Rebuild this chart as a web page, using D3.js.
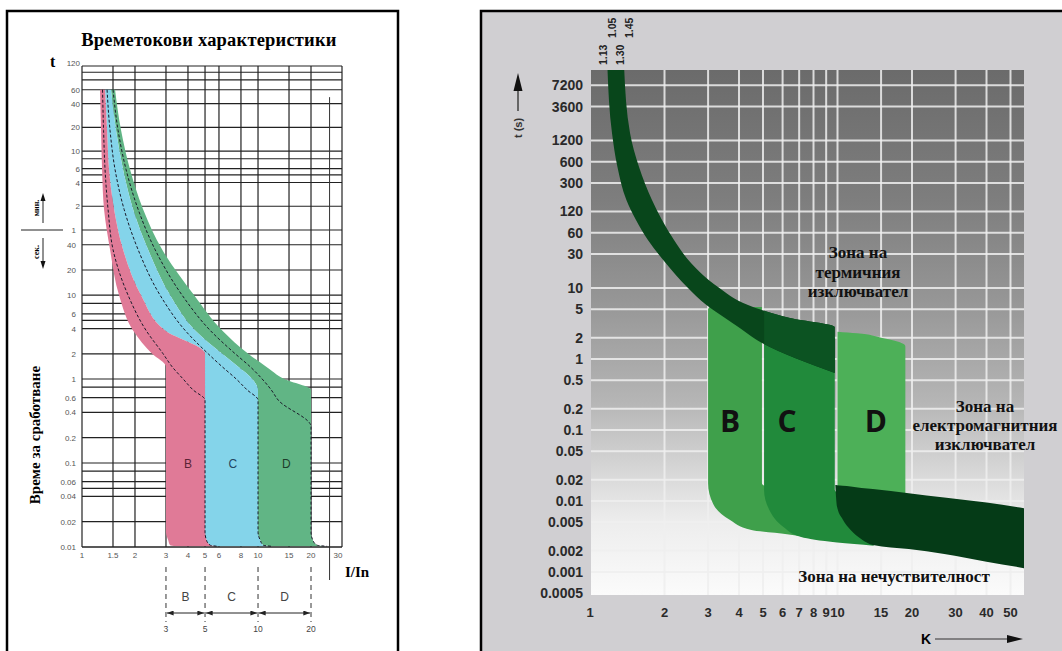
<!DOCTYPE html>
<html>
<head>
<meta charset="utf-8">
<script src="https://cdn.jsdelivr.net/npm/d3@7"></script>
<style>
body { margin: 0; background: #fff; }
svg { display: block; }
</style>
</head>
<body>
<svg id="chart" width="1062" height="651"></svg>
<script>
// ---------- left chart data ----------
var leftTitle = "Времетокови характеристики";
var leftXTicks = [1, 1.5, 2, 3, 4, 5, 6, 8, 10, 15, 20, 30];
var leftYTicks = [7200, 3600, 2400, 1200, 600, 360, 240, 120, 60, 40, 20, 10, 6, 4, 2, 1, 0.6, 0.4, 0.2, 0.1, 0.06, 0.04, 0.02, 0.01];
var leftYLabels = ["120", "60", "40", "20", "10", "6", "4", "2", "1", "40", "20", "10", "6", "4", "2", "1", "0.6", "0.4", "0.2", "0.1", "0.06", "0.04", "0.02", "0.01"];
var leftYGrid = [7200, 6000, 4800, 3600, 2400, 1200, 600, 480, 360, 300, 240, 120, 60, 40, 20, 10, 8, 6, 5, 4, 2, 1, 0.8, 0.6, 0.4, 0.2, 0.1, 0.08, 0.06, 0.05, 0.04, 0.02, 0.01];

// band edges and dashed curves, I/In sampled at the same times (s)
var bandT   = [3600, 1100, 350, 110, 35, 10, 3.8, 2.0, 1.4, 1.0, 0.74, 0.56, 0.27, 0.015, 0.012, 0.0105, 0.0102];
var edgeLow = [1.266, 1.283, 1.30, 1.334, 1.443, 1.624, 1.95, 2.502, 3, 3, 3, 3, 3, 3, 3.09, 3.167, 3.426];
var edgeB   = [1.352, 1.388, 1.424, 1.521, 1.711, 2.166, 2.966, 5, 5, 5, 5, 5, 5, 5, 5.1, 5.35, 5.86];
var edgeC   = [1.462, 1.561, 1.711, 1.95, 2.373, 3.167, 4.394, 6.26, 7.72, 9.27, 10, 10, 10, 10, 10.3, 10.7, 11.9];
var edgeD   = [1.541, 1.667, 1.875, 2.223, 2.852, 4.337, 6.26, 8.80, 11.13, 14.09, 20, 20, 20, 20, 20.5, 21.7, 24.7];
var dashB   = [1.308, 1.326, 1.352, 1.406, 1.501, 1.827, 2.312, 2.889, 3.251, 3.755, 4.28, 5, 5, 5, 5.1, 5.35, 5.86];
var dashC   = [1.388, 1.443, 1.541, 1.734, 2.083, 2.778, 3.854, 5.21, 6.26, 7.52, 8.68, 10, 10, 10, 10.3, 10.7, 11.9];
var dashD   = [1.501, 1.603, 1.780, 2.083, 2.602, 3.706, 5.35, 7.42, 9.03, 10.56, 11.9, 13.03, 20, 20, 20.5, 21.7, 24.7];

var leftBandNames = ["B", "C", "D"];
var leftBandLabelAt = [4, 7.2, 14.5];
var bracketEdges = [3, 5, 10, 20];

// ---------- right chart data ----------
var rightYTicks = [7200, 3600, 1200, 600, 300, 120, 60, 30, 10, 5, 2, 1, 0.5, 0.2, 0.1, 0.05, 0.02, 0.01, 0.005, 0.002, 0.001, 0.0005];
var rightYLabels = ["7200", "3600", "1200", "600", "300", "120", "60", "30", "10", "5", "2", "1", "0.5", "0.2", "0.1", "0.05", "0.02", "0.01", "0.005", "0.002", "0.001", "0.0005"];
var rightXTicks = [1, 2, 3, 4, 5, 6, 7, 8, 9, 10, 15, 20, 30, 40, 50];
var rightXGrid = [2, 3, 4, 5, 6, 7, 8, 9, 10, 15, 20, 30, 40, 50];
var topLabels = ["1.13", "1.05", "1.30", "1.45"];

var thermalT  = [14000, 1524, 506, 173.5, 90.7, 47.4, 22.5, 10.3, 5.76, 3.78, 2.82, 1.68, 0.635];
var thermalLo = [1.175, 1.227, 1.291, 1.403, 1.534, 1.714, 2.022, 2.466, 2.953, 3.513, 3.974, 4.954, 9.75];
var thermalHi = [1.372, 1.451, 1.578, 1.780, 1.954, 2.185, 2.559, 3.290, 4.349, 6.430, 9.75, 9.75, 9.75];

var bT  = [5.4, 5.0, 0.5, 0.0178, 0.009, 0.0054, 0.0039, 0.0034, 0.0029];
var bLo = [3.05, 3.0, 3.0, 3.0, 3.15, 3.68, 4.49, 6.25, 8.5];
var bHi = [4.95, 4.95, 4.95, 4.95, 8.5, 8.5, 8.5, 8.5, 8.5];

var cT  = [2.0, 0.0144, 0.0075, 0.0043, 0.0031, 0.0026, 0.00235];
var cLo = [5.05, 5.05, 5.3, 6.05, 7.13, 9.96, 14];
var cHi = [9.75, 9.75, 14, 14, 14, 14, 14];

var dT  = [2.42, 2.3, 2.0, 1.75, 1.62, 1.5, 0.01];
var dLo = [10, 10, 10, 10, 10, 10, 10];
var dHi = [10.0, 12.0, 15.0, 17.6, 18.5, 18.8, 18.8];

var magI   = [9.8, 9.96, 10.5, 11.3, 12.5, 13.9, 19.4, 27, 40, 57];
var magTop = [0.0168, 0.0167, 0.0164, 0.016, 0.0153, 0.0148, 0.0129, 0.0112, 0.0095, 0.0079];
var magBot = [0.0168, 0.0083, 0.0055, 0.0039, 0.0029, 0.0024, 0.0021, 0.0018, 0.0014, 0.00113];

var rightNames = ["B", "C", "D"];
var rightNameAt = [3.68, 6.25, 14.3];
var thermalText = ["Зона на", "термичния", "изключвател"];
var magText = ["Зона на", "електромагнитния", "изключвател"];
var deadText = "Зона на нечуствителност";

var serif = "'Liberation Serif', 'Times New Roman', serif";
var sans = "'Liberation Sans', Arial, sans-serif";
var narrow = "'Liberation Sans Narrow', 'Liberation Sans', sans-serif";

var svg = d3.select("#chart");
var defs = svg.append("defs");

// panels
svg.append("rect").attr("x", 7).attr("y", 11).attr("width", 391).attr("height", 700)
	.attr("fill", "#fff").attr("stroke", "#000").attr("stroke-width", 2.5);
svg.append("rect").attr("x", 481).attr("y", 11).attr("width", 700).attr("height", 700)
	.attr("fill", "#d0cfd2").attr("stroke", "#000").attr("stroke-width", 2.5);

// =============== left chart ===============
var xL = d3.scaleLog().domain([1, 30]).range([82, 342]);
var yL = d3.scaleLog().domain([7200, 60, 1, 0.01]).range([66, 230, 379, 547]);
var gL = svg.append("g");

gL.append("text").attr("x", 209).attr("y", 46).attr("text-anchor", "middle")
	.style("font", "bold 18.5px " + serif).style("letter-spacing", "0.2px").text(leftTitle);

// grid
gL.append("g").selectAll("line").data(leftYGrid).enter().append("line")
	.attr("x1", xL(1)).attr("x2", xL(30))
	.attr("y1", d => yL(d)).attr("y2", d => yL(d))
	.attr("stroke", "#222").attr("stroke-width", 1.2);
gL.append("g").selectAll("line").data(leftXTicks).enter().append("line")
	.attr("x1", d => xL(d)).attr("x2", d => xL(d))
	.attr("y1", yL(7200)).attr("y2", yL(0.01))
	.attr("stroke", "#222").attr("stroke-width", 1.2);
// extra axis line at the right
gL.append("line").attr("x1", xL(25.5)).attr("x2", xL(25.5))
	.attr("y1", yL(2900)).attr("y2", yL(0.01) + 33)
	.attr("stroke", "#333").attr("stroke-width", 1);

// bands
function rows(lo, hi) { return bandT.map((t, i) => ({t: t, a: lo[i], b: hi[i]})); }
var areaL = d3.area().curve(d3.curveMonotoneY)
	.y(d => yL(d.t)).x0(d => xL(d.a)).x1(d => xL(d.b));
gL.append("path").attr("d", areaL(rows(edgeC, edgeD))).attr("fill", "#61b585");
gL.append("path").attr("d", areaL(rows(edgeB, edgeC))).attr("fill", "#84d4ea");
gL.append("path").attr("d", areaL(rows(edgeLow, edgeB))).attr("fill", "#e07a97");

var lineL = d3.line().curve(d3.curveMonotoneY).x(d => xL(d.v)).y(d => yL(d.t));
[dashB, dashC, dashD].forEach(function(c) {
	gL.append("path").attr("d", lineL(bandT.map((t, i) => ({t: t, v: c[i]})))).attr("fill", "none")
		.attr("stroke", "#1a1a2a").attr("stroke-width", 1).attr("stroke-dasharray", "3,2");
});
// bottom line over fills
gL.append("line").attr("x1", xL(1)).attr("x2", xL(30)).attr("y1", yL(0.01)).attr("y2", yL(0.01))
	.attr("stroke", "#222").attr("stroke-width", 1.2);

gL.selectAll(".bandName").data(leftBandNames).enter().append("text")
	.attr("x", (d, i) => xL(leftBandLabelAt[i])).attr("y", yL(0.1) + 5)
	.attr("text-anchor", "middle")
	.attr("fill", (d, i) => ["#5b2436", "#234560", "#1d3d2b"][i])
	.style("font", "12px " + sans).text(d => d);

// tick labels
gL.selectAll(".yl").data(leftYTicks).enter().append("text")
	.attr("x", d => d >= 120 ? 80 : 76).attr("y", (d, i) => yL(d) + (i == 0 ? 0 : 3))
	.attr("text-anchor", "end").attr("fill", "#555")
	.style("font", "8px " + sans).text((d, i) => leftYLabels[i]);
gL.selectAll(".xl").data(leftXTicks).enter().append("text")
	.attr("x", d => xL(d) - (d == 30 ? 4 : 0)).attr("y", 558)
	.attr("text-anchor", "middle").attr("fill", "#555")
	.style("font", "8px " + sans).text(d => d);

gL.append("text").attr("x", 50).attr("y", 67).style("font", "bold 16px " + serif).text("t");
gL.append("text").attr("x", 345).attr("y", 577).style("font", "bold 15px " + serif).text("I/In");
gL.append("text").attr("transform", "translate(40,435) rotate(-90)").attr("text-anchor", "middle")
	.style("font", "bold 15px " + serif).text("Време за сработване");

// minutes / seconds marker
gL.append("line").attr("x1", 21).attr("x2", 63).attr("y1", yL(60)).attr("y2", yL(60))
	.attr("stroke", "#222").attr("stroke-width", 1);
gL.append("line").attr("x1", 43).attr("x2", 43).attr("y1", yL(60) - 7).attr("y2", yL(60) - 30)
	.attr("stroke", "#222").attr("stroke-width", 1);
gL.append("path").attr("d", "M43," + (yL(60) - 37) + "l-2.5,8h5z").attr("fill", "#111");
gL.append("line").attr("x1", 43).attr("x2", 43).attr("y1", yL(60) + 8).attr("y2", yL(60) + 32)
	.attr("stroke", "#222").attr("stroke-width", 1);
gL.append("path").attr("d", "M43," + (yL(60) + 39) + "l-2.5,-8h5z").attr("fill", "#111");
gL.append("text").attr("transform", "translate(39," + (yL(60) - 22) + ") rotate(-90)")
	.attr("text-anchor", "middle").style("font", "bold 8px " + serif).text("мин.");
gL.append("text").attr("transform", "translate(39," + (yL(60) + 22) + ") rotate(-90)")
	.attr("text-anchor", "middle").style("font", "bold 8px " + serif).text("сек.");

// bracket under the chart
defs.append("marker").attr("id", "ah").attr("viewBox", "0 0 8 6").attr("refX", 8).attr("refY", 3)
	.attr("markerWidth", 7).attr("markerHeight", 5).attr("orient", "auto-start-reverse")
	.append("path").attr("d", "M0,0L8,3L0,6z").attr("fill", "#222");
gL.selectAll(".bdash").data(bracketEdges).enter().append("line")
	.attr("x1", d => xL(d)).attr("x2", d => xL(d)).attr("y1", 567).attr("y2", 622)
	.attr("stroke", "#333").attr("stroke-width", 1).attr("stroke-dasharray", "5,4");
gL.selectAll(".bnum").data(bracketEdges).enter().append("text")
	.attr("x", d => xL(d)).attr("y", 632).attr("text-anchor", "middle").attr("fill", "#444")
	.style("font", "8.5px " + sans).text(d => d);
gL.selectAll(".barrow").data(leftBandNames).enter().append("line")
	.attr("x1", (d, i) => xL(bracketEdges[i]) + 1).attr("x2", (d, i) => xL(bracketEdges[i + 1]) - 1)
	.attr("y1", 613).attr("y2", 613).attr("stroke", "#222").attr("stroke-width", 1)
	.attr("marker-start", "url(#ah)").attr("marker-end", "url(#ah)");
gL.selectAll(".bname").data(leftBandNames).enter().append("text")
	.attr("x", (d, i) => xL(Math.sqrt(bracketEdges[i] * bracketEdges[i + 1])))
	.attr("y", 601).attr("text-anchor", "middle").attr("fill", "#444")
	.style("font", "12px " + sans).text(d => d);

// =============== right chart ===============
var xR = d3.scaleLog().domain([1, 10]).range([590, 837.5]);
var yR = d3.scaleLog().domain([1, 0.001]).range([359, 572]);
var pr = {x0: 591, x1: 1024, y0: 70, y1: 595};
var gR = svg.append("g");

var grad = defs.append("linearGradient").attr("id", "bgR").attr("x1", 0).attr("y1", 0).attr("x2", 0).attr("y2", 1);
[[0, "#6b6b6b"], [0.25, "#7e7e7e"], [0.44, "#969696"], [0.63, "#b5b5b5"], [0.76, "#d6d6d6"], [0.86, "#ededed"], [1, "#fbfbfb"]]
	.forEach(s => grad.append("stop").attr("offset", s[0]).attr("stop-color", s[1]));
defs.append("clipPath").attr("id", "clipR").append("rect")
	.attr("x", pr.x0).attr("y", pr.y0).attr("width", pr.x1 - pr.x0).attr("height", pr.y1 - pr.y0);
defs.append("clipPath").attr("id", "clipC").append("rect")
	.attr("x", xR(5.05)).attr("y", pr.y0).attr("width", xR(9.75) - xR(5.05)).attr("height", pr.y1 - pr.y0);

gR.append("rect").attr("x", pr.x0).attr("y", pr.y0).attr("width", pr.x1 - pr.x0).attr("height", pr.y1 - pr.y0)
	.attr("fill", "url(#bgR)");

var gP = gR.append("g").attr("clip-path", "url(#clipR)");
gP.append("g").selectAll("line").data(rightYTicks.slice(0, -1)).enter().append("line")
	.attr("x1", pr.x0).attr("x2", pr.x1).attr("y1", d => yR(d)).attr("y2", d => yR(d))
	.attr("stroke", "#eeeeee").attr("stroke-opacity", 0.85).attr("stroke-width", 2);
gP.append("g").selectAll("line").data(rightXGrid).enter().append("line")
	.attr("x1", d => xR(d)).attr("x2", d => xR(d)).attr("y1", pr.y0).attr("y2", pr.y1)
	.attr("stroke", "#eeeeee").attr("stroke-opacity", 0.85).attr("stroke-width", 2);

function rowsR(ts, lo, hi) { return ts.map((t, i) => ({t: t, a: lo[i], b: hi[i]})); }
var areaR = d3.area().curve(d3.curveMonotoneY)
	.y(d => yR(d.t)).x0(d => xR(d.a)).x1(d => xR(d.b));
var areaMag = d3.area().curve(d3.curveMonotoneX)
	.x(d => xR(d.I)).y0(d => yR(d.top)).y1(d => yR(d.bot));

gP.append("path").attr("d", areaR(rowsR(bT, bLo, bHi))).attr("fill", "#3fa04b");
gP.append("path").attr("d", areaR(rowsR(cT, cLo, cHi))).attr("fill", "#218a3b");
gP.append("path").attr("d", areaR(rowsR(dT, dLo, dHi))).attr("fill", "#4db058");
var thermalPath = areaR(rowsR(thermalT, thermalLo, thermalHi));
gP.append("path").attr("d", thermalPath).attr("fill", "#08461b");
gP.append("g").attr("clip-path", "url(#clipC)").append("path").attr("d", thermalPath).attr("fill", "#0c5322");
gP.append("path").attr("d", areaMag(magI.map((v, i) => ({I: v, top: magTop[i], bot: magBot[i]}))))
	.attr("fill", "#053b17");

gR.selectAll(".rname").data(rightNames).enter().append("text")
	.attr("x", (d, i) => xR(rightNameAt[i])).attr("y", yR(0.134) + 11)
	.attr("text-anchor", "middle").attr("fill", "#111")
	.style("font", "bold 30px 'Open Sans', " + sans).text(d => d);

// axis labels
gR.selectAll(".ryl").data(rightYTicks).enter().append("text")
	.attr("x", 583).attr("y", d => yR(d) + 5).attr("text-anchor", "end").attr("fill", "#2a2a2a")
	.style("font", "bold 14px " + narrow).text((d, i) => rightYLabels[i]);
gR.selectAll(".rxl").data(rightXTicks).enter().append("text")
	.attr("x", d => xR(d)).attr("y", 617).attr("text-anchor", "middle").attr("fill", "#2a2a2a")
	.style("font", "bold 13px " + narrow).text(d => d);
gR.selectAll(".tl").data(topLabels).enter().append("text")
	.attr("transform", (d, i) => "translate(" + (xR(1.13) + 4 + i * 8.5) + "," + (i % 2 == 0 ? 65 : 38) + ") rotate(-90)")
	.attr("fill", "#222").style("font", "bold 10.5px " + narrow).text(d => d);

// t(s) arrow
gR.append("line").attr("x1", 518).attr("x2", 518).attr("y1", 111).attr("y2", 88)
	.attr("stroke", "#666").attr("stroke-width", 2);
gR.append("path").attr("d", "M518,73L522.5,91L513.5,91z").attr("fill", "#111");
gR.append("text").attr("transform", "translate(522,128) rotate(-90)").attr("text-anchor", "middle")
	.attr("fill", "#333").style("font", "bold 11px " + narrow).text("t (s)");

// K arrow
gR.append("text").attr("x", 926).attr("y", 644).attr("text-anchor", "middle")
	.style("font", "bold 14px " + sans).text("K");
gR.append("line").attr("x1", 935).attr("x2", 1010).attr("y1", 639).attr("y2", 639)
	.attr("stroke", "#333").attr("stroke-width", 1.2);
gR.append("path").attr("d", "M1023,639L1007,635L1007,643z").attr("fill", "#111");

// zone texts
gR.selectAll(".tz").data(thermalText).enter().append("text")
	.attr("x", 858).attr("y", (d, i) => 258 + i * 19.5).attr("text-anchor", "middle")
	.attr("fill", "#111").style("font", "bold 17px " + serif).text(d => d);
gR.selectAll(".mz").data(magText).enter().append("text")
	.attr("x", 985).attr("y", (d, i) => 412 + i * 19).attr("text-anchor", "middle")
	.attr("fill", "#111").style("font", "bold 17px " + serif).text(d => d);
gR.append("text").attr("x", 894).attr("y", 582).attr("text-anchor", "middle")
	.attr("fill", "#111").style("font", "bold 17px " + serif).text(deadText);
</script>
</body>
</html>
